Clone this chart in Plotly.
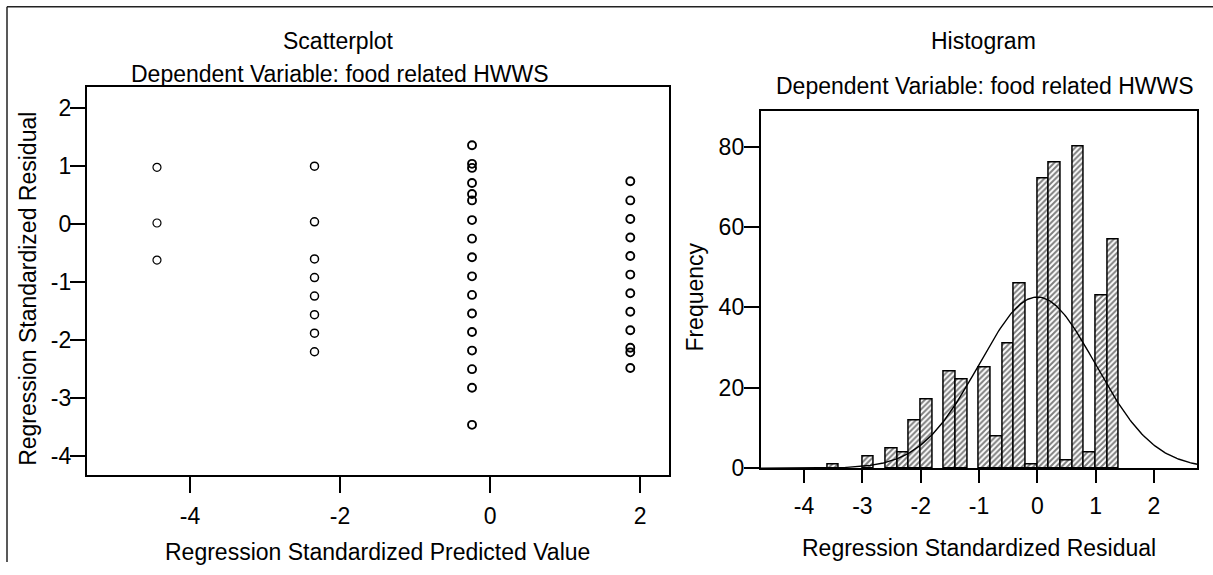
import numpy as np
import plotly.graph_objects as go

# ---------------- data ----------------
# Scatterplot: standardized predicted value (x) vs standardized residual (y)
pred_col1 = -4.44
resid_col1 = [0.97, 0.01, -0.63]
pred_col2 = -2.34
resid_col2 = [0.99, 0.03, -0.61, -0.93, -1.25, -1.57, -1.89, -2.21]
pred_col3 = -0.24
resid_col3 = [1.35, 1.03, 0.96, 0.70, 0.51, 0.40, 0.06, -0.26, -0.58, -0.91,
              -1.23, -1.55, -1.87, -2.19, -2.51, -2.83, -3.47]
pred_col4 = 1.87
resid_col4 = [0.73, 0.40, 0.08, -0.24, -0.56, -0.88, -1.20, -1.52, -1.84,
              -2.14, -2.22, -2.49]

# Histogram of standardized residuals (bin left edges, bin width 0.2)
bin_left = [-3.6, -3.0, -2.6, -2.4, -2.2, -2.0, -1.6, -1.4, -1.0, -0.8,
            -0.6, -0.4, -0.2, 0.0, 0.2, 0.4, 0.6, 0.8, 1.0, 1.2]
bin_count = [1, 3, 5, 4, 12, 17, 24, 22, 25, 8,
             31, 46, 1, 72, 76, 2, 80, 4, 43, 57]
bin_width = 0.2
resid_mean = 0.0
resid_sd = 0.999

scatter_xticks = [-4, -2, 0, 2]
scatter_yticks = [-4, -3, -2, -1, 0, 1, 2]
hist_xticks = [-4, -3, -2, -1, 0, 1, 2]
hist_yticks = [0, 20, 40, 60, 80]

title_left = "Scatterplot"
title_right = "Histogram"
subtitle = "Dependent Variable: food related HWWS"

# ---------------- figure ----------------
W, H = 1213, 575
FONT = "Liberation Sans, Arial, sans-serif"
FS = 23

def px(x):
    return x / W

def py(y):
    return 1 - y / H

def labels(vals):
    return [str(v) for v in vals]  # plain hyphen-minus like the original

fig = go.Figure()

cols = [(pred_col1, resid_col1, 1.2), (pred_col2, resid_col2, 1.5),
        (pred_col3, resid_col3, 1.9), (pred_col4, resid_col4, 1.9)]
for xv, ys, lw in cols:
    fig.add_trace(go.Scatter(
        x=[xv] * len(ys), y=ys, mode="markers",
        marker=dict(symbol="circle-open", size=8, color="black",
                    line=dict(width=lw, color="black")),
        xaxis="x", yaxis="y", showlegend=False, hoverinfo="x+y"))

n_total = sum(bin_count)
fig.add_trace(go.Bar(
    x=bin_left, y=bin_count, width=bin_width, offset=0,
    marker=dict(color="white", line=dict(color="black", width=1.5),
                pattern=dict(shape="/", fgcolor="black", bgcolor="white",
                             size=4, solidity=0.5)),
    xaxis="x2", yaxis="y2", showlegend=False))

xs = np.linspace(-4.744, 2.744, 300)
curve = n_total * bin_width * np.exp(-0.5 * ((xs - resid_mean) / resid_sd) ** 2) / (resid_sd * np.sqrt(2 * np.pi))
fig.add_trace(go.Scatter(x=xs, y=curve, mode="lines",
                         line=dict(color="black", width=1.4),
                         xaxis="x2", yaxis="y2", showlegend=False))

axis_common = dict(showline=True, linecolor="black", linewidth=1.8, mirror=True,
                   ticks="outside", tickcolor="black", tickwidth=1.5,
                   showgrid=False, zeroline=False,
                   tickfont=dict(family=FONT, size=FS, color="black"))

fig.update_layout(
    width=W, height=H,
    margin=dict(l=0, r=0, t=0, b=0),
    paper_bgcolor="white", plot_bgcolor="white",
    bargap=0,
    xaxis=dict(domain=[px(86.7), px(669.3)], range=[-5.377, 2.39],
               tickvals=scatter_xticks, ticktext=labels(scatter_xticks),
               ticklen=16, ticklabelstandoff=4, anchor="y", **axis_common),
    yaxis=dict(domain=[py(485.7), py(89.3)], range=[-4.33, 2.35],
               tickvals=scatter_yticks, ticktext=labels(scatter_yticks),
               ticklen=15, ticklabelstandoff=-6, anchor="x", **axis_common),
    xaxis2=dict(domain=[px(760.7), px(1197.3)], range=[-4.744, 2.744],
                tickvals=hist_xticks, ticktext=labels(hist_xticks),
                ticklen=13, ticklabelstandoff=3, anchor="y2", **axis_common),
    yaxis2=dict(domain=[py(479), py(114)], range=[0, 88.75],
                tickvals=hist_yticks, ticktext=labels(hist_yticks),
                ticklen=15, ticklabelstandoff=-5, anchor="x2", **axis_common),
)

def ann(text, x, y, angle=0):
    return dict(text=text, x=px(x), y=py(y), xref="paper", yref="paper",
                xanchor="center", yanchor="middle", showarrow=False,
                textangle=angle, font=dict(family=FONT, size=FS, color="black"))

fig.update_layout(annotations=[
    ann(title_left, 338, 42),
    ann(subtitle, 340, 76),
    ann("Regression Standardized Predicted Value", 377.5, 565),
    ann("Regression Standardized Residual", 28, 295.5, -90),
    ann(title_right, 983, 42),
    ann(subtitle, 985, 88),
    ann("Regression Standardized Residual", 979, 561),
    ann("Frequency", 695, 304.5, -90),
])

fig.add_shape(type="line", xref="paper", yref="paper",
              x0=px(7), x1=px(7), y0=0, y1=py(7),
              line=dict(color="#222", width=1.5))
fig.add_shape(type="line", xref="paper", yref="paper",
              x0=px(7), x1=1, y0=py(7), y1=py(7),
              line=dict(color="#222", width=1.5))

fig.write_html("out.html")
